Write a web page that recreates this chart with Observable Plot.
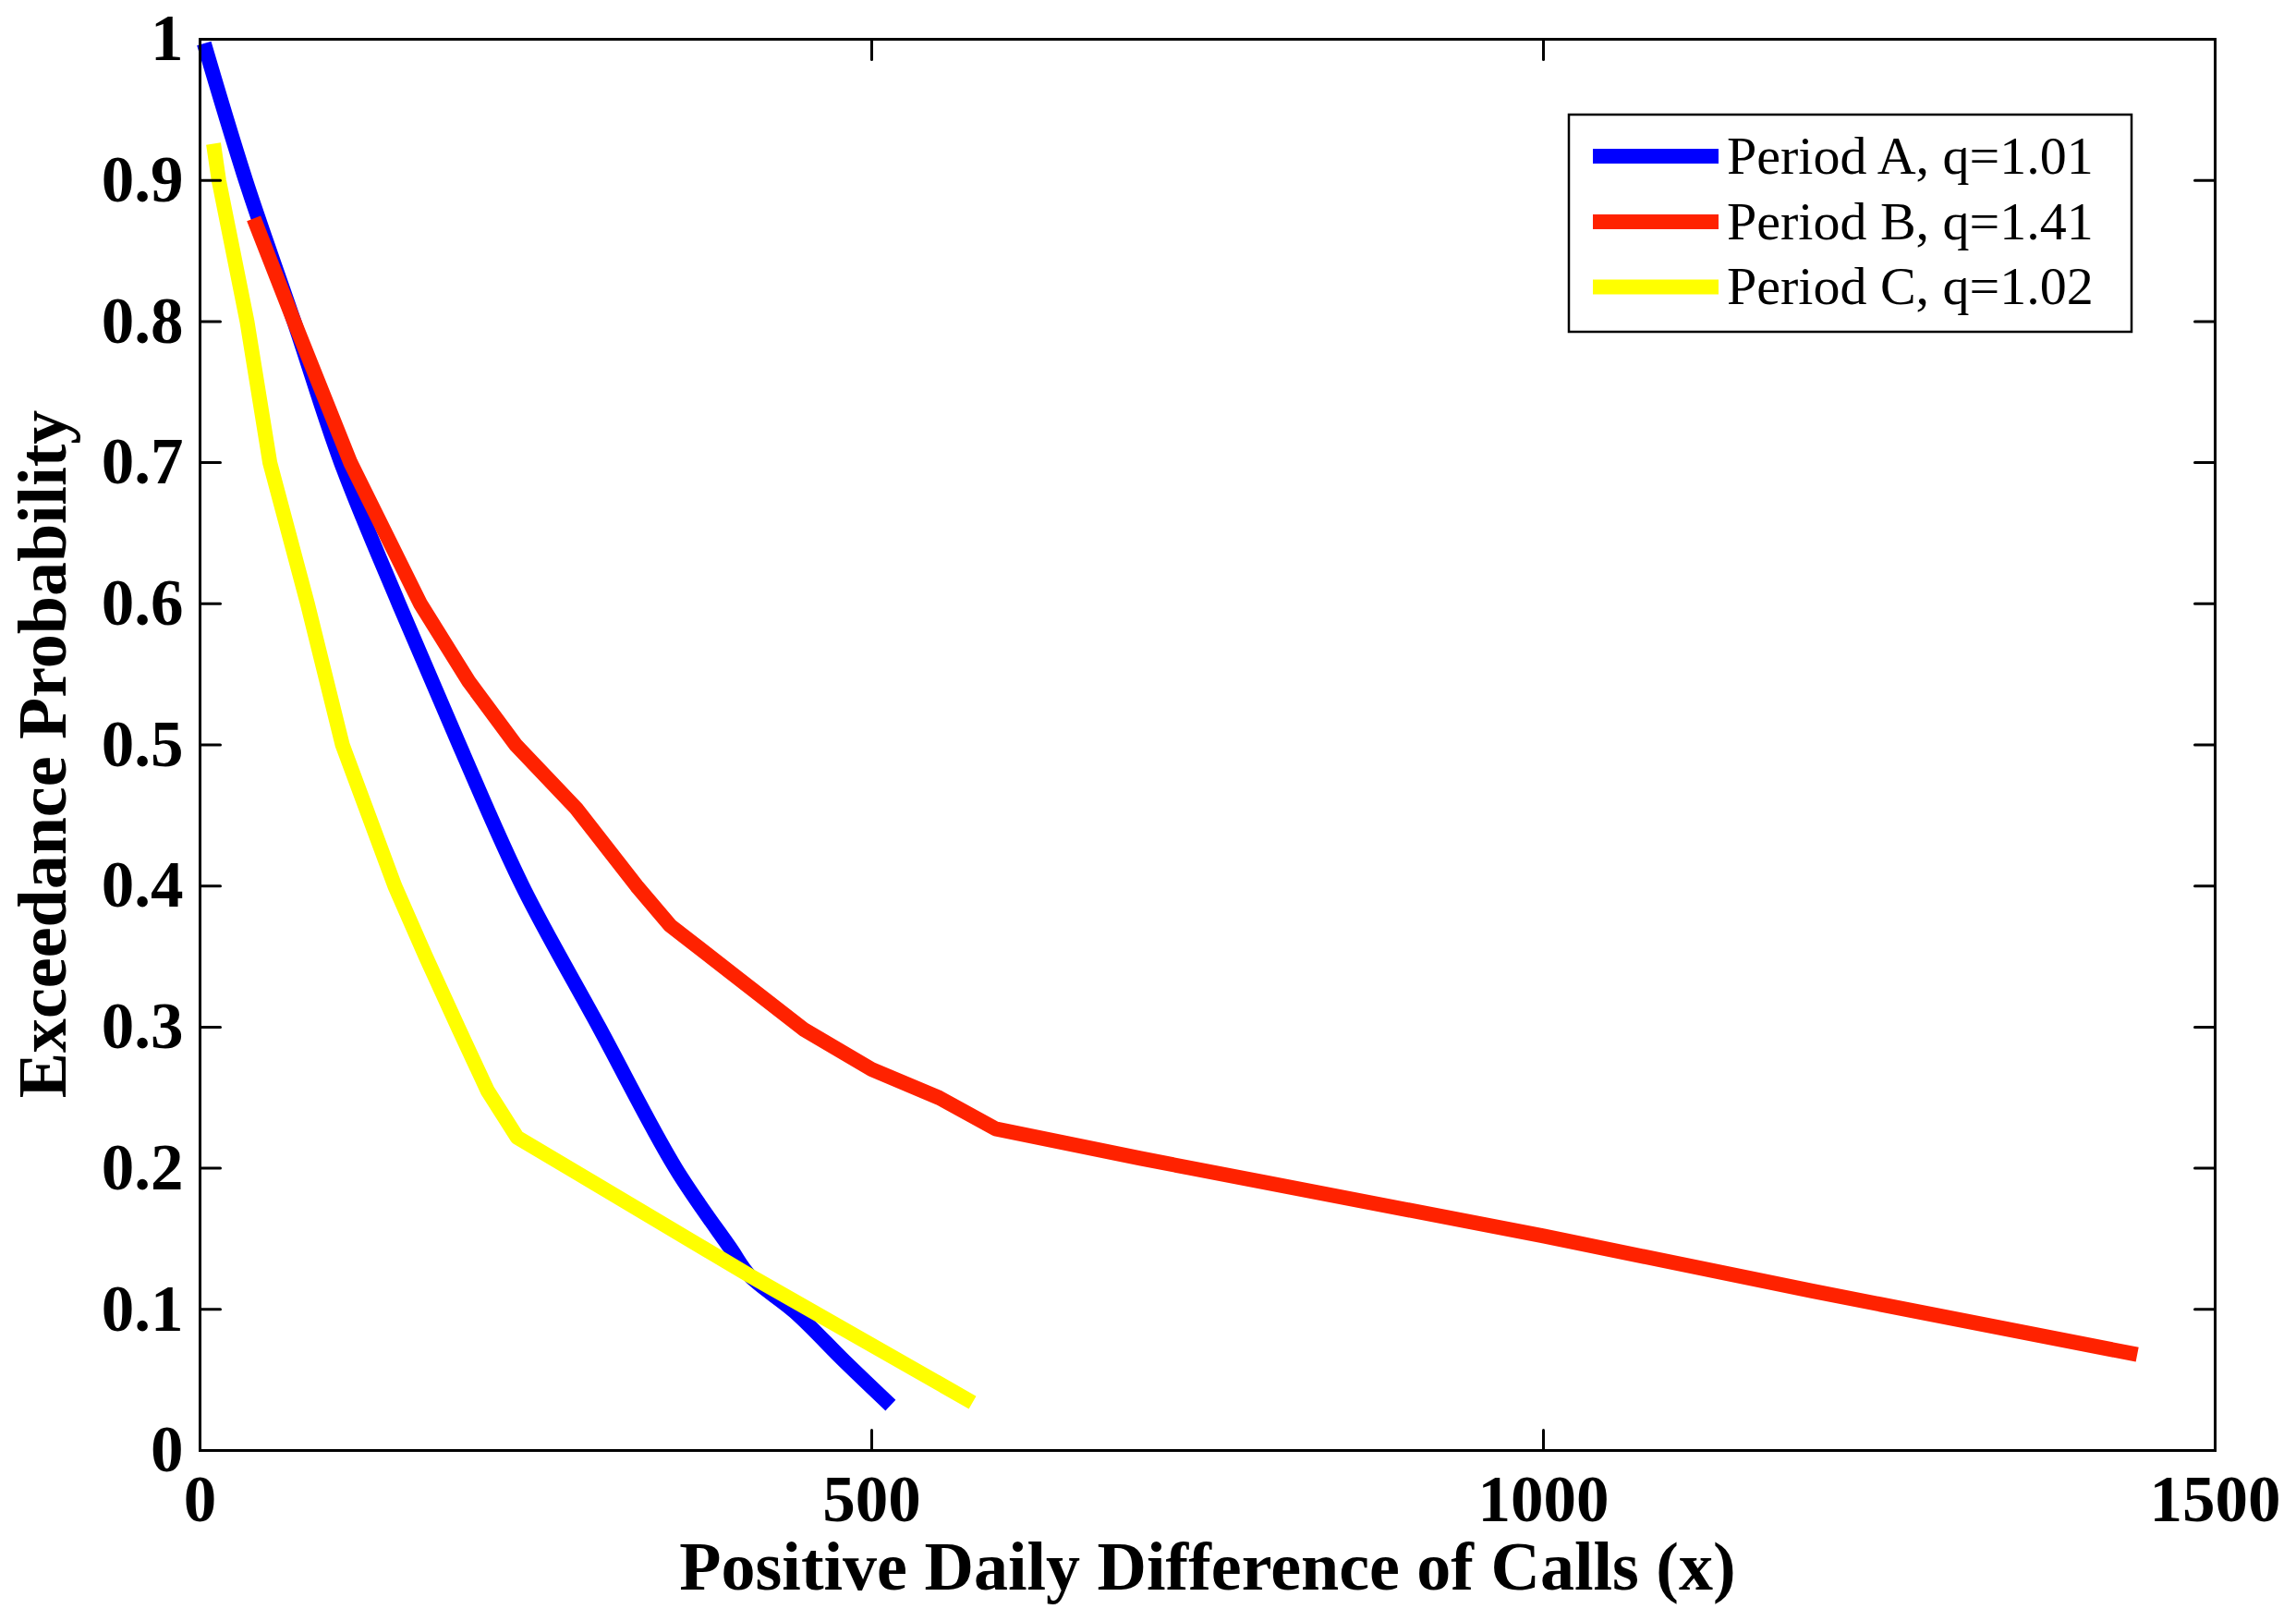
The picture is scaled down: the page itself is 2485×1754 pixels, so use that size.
<!DOCTYPE html>
<html>
<head>
<meta charset="utf-8">
<script src="https://cdn.jsdelivr.net/npm/d3@7"></script>
<script src="https://cdn.jsdelivr.net/npm/@observablehq/plot@0.6"></script>
<style>
  html, body { margin: 0; padding: 0; background: #fff; overflow: hidden; }
  #chart { width: 2485px; height: 1754px; }
</style>
</head>
<body>
<div id="chart"></div>
<script>
// Period A, q=1.01
const xA = [3, 34, 70, 105, 148, 193, 240, 297, 354, 395, 409, 443, 480, 514];
const yA = [0.997, 0.90, 0.80, 0.70, 0.60, 0.50, 0.40, 0.30, 0.20, 0.143, 0.124, 0.098, 0.063, 0.032];
// Period B, q=1.41
const xB = [40, 70, 112, 164, 200, 235, 280, 325, 350, 400, 450, 500, 550, 592, 700, 1000, 1200, 1442];
const yB = [0.873, 0.80, 0.70, 0.60, 0.545, 0.50, 0.455, 0.40, 0.372, 0.335, 0.298, 0.27, 0.25, 0.228, 0.207, 0.152, 0.113, 0.068];
// Period C, q=1.02
const xC = [10, 14, 35, 52, 80, 106, 145, 168, 192, 214, 236, 409, 575];
const yC = [0.926, 0.90, 0.80, 0.70, 0.60, 0.50, 0.40, 0.35, 0.30, 0.255, 0.222, 0.124, 0.034];

const seriesNames = ["Period A, q=1.01", "Period B, q=1.41", "Period C, q=1.02"];
const seriesColors = ["#0000ff", "#ff2200", "#ffff00"];

const xTicks = [0, 500, 1000, 1500];
const xTickLabels = ["0", "500", "1000", "1500"];
const yTicks = [0, 0.1, 0.2, 0.3, 0.4, 0.5, 0.6, 0.7, 0.8, 0.9, 1];
const yTickLabels = ["0", "0.1", "0.2", "0.3", "0.4", "0.5", "0.6", "0.7", "0.8", "0.9", "1"];

const xLabel = "Positive Daily Difference of Calls (x)";
const yLabel = "Exceedance Probability";

const toRows = (xs, ys, s) => xs.map((x, i) => ({x, y: ys[i], s}));
const rowsA = toRows(xA, yA, seriesNames[0]);
const rowsB = toRows(xB, yB, seriesNames[1]);
const rowsC = toRows(xC, yC, seriesNames[2]);

const tickShape = {draw(context, l) { context.moveTo(0, 0); context.lineTo(0, -l); }};
const tickStyle = {length: 22, anchor: "start", shape: tickShape, stroke: "black", strokeWidth: 3, fill: "none"};
const lineStyle = {x: "x", y: "y", stroke: "s", strokeWidth: 16, strokeLinecap: "butt", strokeLinejoin: "round"};

const fontFamily = "'Liberation Serif', 'Times New Roman', serif";

const plot = Plot.plot({
  width: 2485,
  height: 1754,
  marginLeft: 216,
  marginRight: 88,
  marginTop: 42,
  marginBottom: 185,
  style: {fontFamily, background: "#fff", color: "#000"},
  x: {domain: [0, 1500]},
  y: {domain: [0, 1]},
  color: {domain: seriesNames, range: seriesColors},
  marks: [
    Plot.line(rowsA, {...lineStyle, curve: "catmull-rom"}),
    Plot.line(rowsB, {...lineStyle}),
    Plot.line(rowsC, {...lineStyle}),
    // inward ticks on all four sides
    Plot.vector(xTicks, {x: d => d, frameAnchor: "bottom", rotate: 0, ...tickStyle}),
    Plot.vector(xTicks, {x: d => d, frameAnchor: "top", rotate: 180, ...tickStyle}),
    Plot.vector(yTicks, {y: d => d, frameAnchor: "left", rotate: 90, ...tickStyle}),
    Plot.vector(yTicks, {y: d => d, frameAnchor: "right", rotate: -90, ...tickStyle}),
    Plot.frame({stroke: "black", strokeWidth: 3}),
    Plot.axisX({ticks: xTicks, tickSize: 0, tickPadding: 26, tickFormat: (d) => xTickLabels[xTicks.indexOf(d)], fontSize: 71, fontWeight: "bold", label: null}),
    Plot.axisY({ticks: yTicks, tickSize: 0, tickPadding: 18, tickFormat: (d) => yTickLabels[yTicks.indexOf(d)], fontSize: 71, fontWeight: "bold", label: null}),
    Plot.text([xLabel], {text: d => d, frameAnchor: "bottom", textAnchor: "middle", dy: 150, lineAnchor: "bottom", fontSize: 74, fontWeight: "bold"}),
    Plot.text([yLabel], {text: d => d, frameAnchor: "left", textAnchor: "middle", dx: -146, dy: 10, rotate: -90, lineAnchor: "bottom", fontSize: 74, fontWeight: "bold"})
  ]
});

document.getElementById("chart").appendChild(plot);

// Legend box (top-right inside the axes)
const svg = d3.select(plot);
const lg = svg.append("g").attr("class", "legend").attr("text-anchor", "start");
const box = {x: 1698, y: 124, w: 609, h: 235};
lg.append("rect").attr("x", box.x).attr("y", box.y).attr("width", box.w).attr("height", box.h)
  .attr("fill", "#fff").attr("stroke", "#000").attr("stroke-width", 2.5);
const rowY = [169, 240, 310.5];
seriesNames.forEach((name, i) => {
  lg.append("line").attr("x1", 1724).attr("x2", 1860).attr("y1", rowY[i]).attr("y2", rowY[i])
    .attr("stroke", seriesColors[i]).attr("stroke-width", 16);
  lg.append("text").attr("x", 1869).attr("y", rowY[i]).attr("dy", "0.32em")
    .attr("text-anchor", "start")
    .attr("font-family", fontFamily).attr("font-size", 58).attr("fill", "#000").text(name);
});
</script>
</body>
</html>
